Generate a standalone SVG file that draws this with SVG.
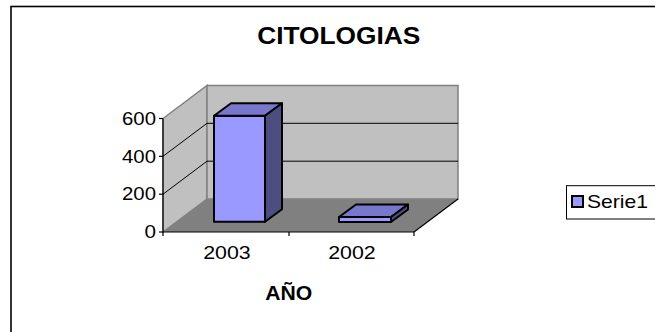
<svg xmlns="http://www.w3.org/2000/svg" width="655" height="332" viewBox="0 0 655 332">
<style>
text{font-family:"Liberation Sans",Arial,sans-serif;fill:#000}
.wall{fill:#c0c0c0;stroke:#808080;stroke-width:1.5}
.grid{stroke:#000;stroke-width:1;fill:none}
.axis{stroke:#000;stroke-width:1.2;fill:none}
.bar{stroke:#000;stroke-width:2;stroke-linejoin:round}
.front{fill:#9999ff}
.top{fill:#7777cc}
.side{fill:#4d4d80}
.lbl{font-size:17.5px}
</style>
<rect x="0" y="0" width="655" height="332" fill="#fff"/>
<rect id="frame" x="11" y="6.5" width="700" height="400" fill="#fff" stroke="#000" stroke-width="1.6"/>
<g id="title"><text x="338.7" y="44.3" font-size="23" font-weight="bold" text-anchor="middle" textLength="163" lengthAdjust="spacingAndGlyphs">CITOLOGIAS</text></g>
<g id="plot">
<polygon id="floor" points="163,232 207,199 458,199 414,232" fill="#808080"/>
<polygon id="left-wall" class="wall" points="163,232 163,118.5 207,85.5 207,199"/>
<rect id="back-wall" class="wall" x="207" y="85.5" width="251" height="113.5"/>
<g class="grid">
<line x1="207" y1="161.2" x2="458" y2="161.2"/>
<line x1="207" y1="123.3" x2="458" y2="123.3"/>
<line x1="163" y1="194.2" x2="207" y2="161.2"/>
<line x1="163" y1="156.3" x2="207" y2="123.3"/>
</g>
<g class="axis">
<line x1="163" y1="118.5" x2="163" y2="232"/>
<line x1="163" y1="232" x2="414" y2="232"/>
<line x1="414" y1="232" x2="458" y2="199"/>
<line x1="159" y1="118.5" x2="163" y2="118.5"/>
<line x1="159" y1="156.3" x2="163" y2="156.3"/>
<line x1="159" y1="194.2" x2="163" y2="194.2"/>
<line x1="159" y1="232" x2="163" y2="232"/>
<line x1="163" y1="232" x2="163" y2="236"/>
<line x1="289" y1="232" x2="289" y2="236"/>
<line x1="414" y1="232" x2="414" y2="236"/>
</g>
</g>
<g id="bar-2003" class="bar">
<polygon class="front" points="214,115.7 265,115.7 265,221.7 214,221.7"/>
<polygon class="top" points="214,115.7 231,103.2 282,103.2 265,115.7"/>
<polygon class="side" points="265,115.7 282,103.2 282,209.2 265,221.7"/>
</g>
<g id="bar-2002" class="bar">
<polygon class="front" points="339,217 391,217 391,222 339,222"/>
<polygon class="top" points="339,217 356,204.5 408,204.5 391,217"/>
<polygon class="side" points="391,217 408,204.5 408,209.5 391,222"/>
</g>
<g id="y-labels" class="lbl" text-anchor="end">
<text x="156" y="124.7" textLength="34" lengthAdjust="spacingAndGlyphs">600</text>
<text x="156" y="162.5" textLength="34" lengthAdjust="spacingAndGlyphs">400</text>
<text x="156" y="200.4" textLength="34" lengthAdjust="spacingAndGlyphs">200</text>
<text x="156" y="238.2" textLength="11.5" lengthAdjust="spacingAndGlyphs">0</text>
</g>
<g id="x-labels" text-anchor="middle">
<text x="227" y="259" font-size="18.5" textLength="47.5" lengthAdjust="spacingAndGlyphs">2003</text>
<text x="352" y="259" font-size="18.5" textLength="47.5" lengthAdjust="spacingAndGlyphs">2002</text>
</g>
<g id="x-title"><text x="288.7" y="300" font-size="20" font-weight="bold" text-anchor="middle" textLength="47" lengthAdjust="spacingAndGlyphs">AÑO</text></g>
<g id="legend">
<rect x="566.5" y="185.7" width="120" height="33.3" fill="#fff" stroke="#000" stroke-width="1"/>
<rect x="572" y="196" width="11" height="11" fill="#9999ff" stroke="#000" stroke-width="2"/>
<text x="587" y="208.3" font-size="18.5" textLength="61" lengthAdjust="spacingAndGlyphs">Serie1</text>
</g>
</svg>
